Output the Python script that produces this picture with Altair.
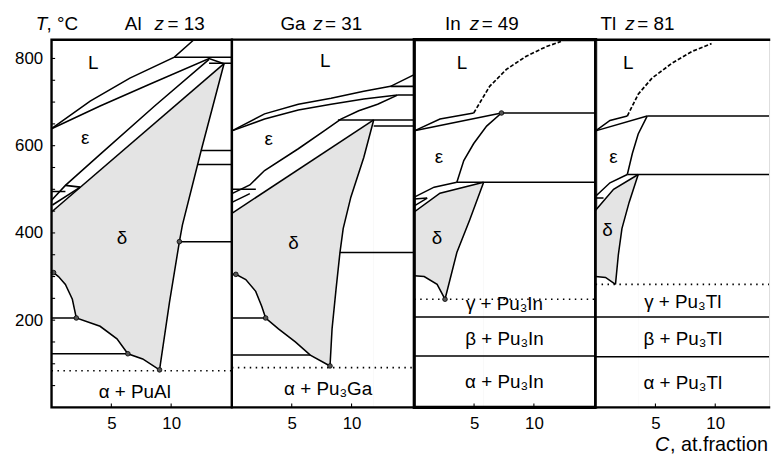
import altair as alt
import pandas as pd

FONT = "Liberation Sans"
Y_MAX = 843
Y_TICKS = [200, 400, 600, 800]
Y_MINOR = [50, 100, 150, 200, 250, 300, 350, 400, 450, 500, 550, 600, 650, 700, 750, 800]
X_TICKS = [5, 10]
X_TICK_LEN = 9      # in degrees C
Y_TICK_LEN = 0.3    # in at.%

PANEL_NAMES = ["Al", "Ga", "In", "Tl"]
PANEL_Z = ["= 13", "= 31", "= 49", "= 81"]
PANEL_EDGE = [15.08, 15.24, 15.16, 14.5]
PANEL_WIDTH = [182, 184, 183, 175]

# ---------------- Al ----------------
AL_SOLID = [
    [(0, 639), (3.23, 702), (6.55, 755), (10.27, 803), (11.9, 843)],
    [(0, 639), (4.06, 691), (8.2, 741), (13.17, 800), (14.42, 788)],
    [(10.27, 803), (15.08, 803)],
    [(13.17, 789), (15.08, 789)],
    [(0, 475), (1.16, 509), (4.06, 580), (8.62, 691), (13.17, 798)],
    [(0, 448), (14.42, 788)],
    [(14.42, 788), (12.51, 589), (10.94, 418), (10.69, 380), (9.86, 241), (9.03, 86)],
    [(9.03, 86), (7.62, 111), (6.38, 123), (5.47, 157), (4.06, 186), (2.07, 205),
     (1.74, 248), (1.16, 282), (0.58, 300), (0.17, 309), (0, 309)],
    [(12.51, 589), (15.08, 589)],
    [(12.22, 557), (15.08, 557)],
    [(10.69, 380), (15.08, 380)],
    [(0, 205), (2.07, 205)],
    [(0, 123), (6.38, 123)],
    [(0, 495), (1.16, 495)],
    [(1.16, 509), (2.40, 505)],
    [(0.08, 464), (2.40, 505)],
]
AL_DASHED = []
AL_DOTTED = [[(0, 84), (15.08, 84)]]
AL_DELTA_TOP = [(0, 448), (14.42, 788)]
AL_DELTA_BOTTOM = [(0, 309), (0.17, 309), (0.58, 300), (1.16, 282), (1.74, 248), (2.07, 205),
                   (4.06, 186), (5.47, 157), (6.38, 123), (7.62, 111), (9.03, 86), (9.86, 241),
                   (10.69, 380), (10.94, 418), (12.51, 589), (14.42, 788)]
AL_NODES = [(2.07, 205), (6.38, 123), (9.03, 86), (10.69, 380), (0.17, 309)]
AL_LABELS = [("L", 3.48, 789), ("ε", 2.82, 618), ("δ", 5.88, 389), ("α + PuAl", 6.96, 36)]

# ---------------- Ga ----------------
GA_SOLID = [
    [(0, 634), (2.73, 673), (5.55, 695), (8.29, 709), (11.02, 725), (13.26, 736), (15.24, 763)],
    [(0, 634), (2.73, 661), (5.55, 682), (8.29, 695), (11.02, 707), (13.84, 716)],
    [(13.26, 736), (15.24, 736)],
    [(13.84, 716), (15.24, 716)],
    [(0, 490), (1.5, 510), (2.73, 543), (5.55, 593), (7.71, 634), (9.11, 661),
     (10.6, 680), (12.18, 695), (13.84, 716)],
    [(0, 445), (11.85, 659)],
    [(11.85, 659), (11.02, 573), (9.94, 482), (9.3, 410), (9.03, 355), (8.70, 270),
     (8.37, 180), (8.20, 95)],
    [(8.20, 95), (6.55, 120), (5.30, 150), (3.89, 180), (2.82, 205), (2.49, 232),
     (1.99, 266), (1.16, 293), (0.33, 305), (0, 305)],
    [(8.86, 659), (15.24, 659)],
    [(11.85, 645), (15.24, 645)],
    [(9.03, 355), (15.24, 355)],
    [(0, 205), (2.82, 205)],
    [(0, 120), (6.55, 120)],
    [(0, 500), (2.0, 500)],
    [(0, 470), (1.5, 490)],
]
GA_DASHED = []
GA_DOTTED = [[(0, 91), (15.24, 91)]]
GA_DELTA_TOP = [(0, 445), (11.85, 659)]
GA_DELTA_BOTTOM = [(0, 305), (0.33, 305), (1.16, 293), (1.99, 266), (2.49, 232), (2.82, 205),
                   (3.89, 180), (5.30, 150), (6.55, 120), (8.20, 95), (8.37, 180), (8.70, 270),
                   (9.03, 355), (9.3, 410), (9.94, 482), (11.02, 573), (11.85, 659)]
GA_NODES = [(2.82, 205), (0.33, 305), (8.2, 95)]
GA_LABELS = [("L", 7.79, 793), ("ε", 3.07, 616), ("δ", 5.14, 377), ("α + Pu₃Ga", 8.04, 43)]

# ---------------- In ----------------
IN_SOLID = [
    [(0, 634), (2.15, 661), (4.97, 675)],
    [(0, 634), (7.29, 675)],
    [(7.29, 675), (15.16, 675)],
    [(7.29, 675), (6.05, 645), (4.97, 605), (4.14, 566), (3.56, 516)],
    [(3.56, 516), (15.16, 516)],
    [(0, 482), (1.66, 505), (3.56, 516)],
    [(0, 448), (2.15, 491), (5.80, 516)],
    [(5.80, 516), (4.64, 430), (3.56, 355), (2.57, 248)],
    [(2.57, 248), (1.91, 282), (0.83, 300), (0, 302)],
    [(0, 207), (15.16, 207)],
    [(0, 118), (15.16, 118)],
    [(0, 478), (1.08, 480)],
    [(0, 462), (1.08, 480)],
]
IN_DASHED = [[(4.97, 675), (6.30, 736), (7.70, 775), (9.36, 805), (11.02, 827), (12.26, 839)]]
IN_DOTTED = [[(0, 248), (15.16, 248)]]
IN_DELTA_TOP = [(0, 448), (2.15, 491), (5.80, 516)]
IN_DELTA_BOTTOM = [(0, 302), (0.83, 300), (1.91, 282), (2.57, 248), (3.56, 355), (4.64, 430),
                   (5.80, 516)]
IN_NODES = [(7.29, 675), (2.57, 248)]
IN_LABELS = [("L", 3.98, 789), ("ε", 2.07, 573), ("δ", 1.91, 389),
             ("γ + Pu₃In", 7.54, 236), ("β + Pu₃In", 7.54, 157), ("α + Pu₃In", 7.54, 59)]

# ---------------- Tl ----------------
TL_SOLID = [
    [(0, 634), (1.2, 658), (2.65, 668)],
    [(0, 634), (4.31, 668)],
    [(4.31, 668), (14.5, 668)],
    [(4.31, 668), (3.56, 627), (3.07, 582), (2.65, 534)],
    [(2.65, 534), (14.5, 534)],
    [(0, 484), (1.2, 515), (2.65, 534)],
    [(0, 452), (1.5, 500), (3.56, 534)],
    [(3.56, 534), (2.8, 470), (2.2, 410), (1.9, 350), (1.66, 282)],
    [(1.66, 282), (0.83, 298), (0, 300)],
    [(0, 207), (14.5, 207)],
    [(0, 116), (14.5, 116)],
    [(0, 480), (0.66, 480)],
]
TL_DASHED = [[(2.65, 668), (3.56, 718), (4.72, 755), (6.38, 789), (8.04, 816), (9.69, 834)]]
TL_DOTTED = [[(0, 282), (14.5, 282)]]
TL_DELTA_TOP = [(0, 452), (1.5, 500), (3.56, 534)]
TL_DELTA_BOTTOM = [(0, 300), (0.83, 298), (1.66, 282), (1.9, 350), (2.2, 410), (2.8, 470),
                   (3.56, 534)]
TL_NODES = []
TL_LABELS = [("L", 2.73, 789), ("ε", 1.49, 573), ("δ", 0.99, 407),
             ("γ + Pu₃Tl", 7.29, 241), ("β + Pu₃Tl", 7.29, 157), ("α + Pu₃Tl", 7.29, 55)]

# title pieces: (element x, z x, value x) in px from panel left
TITLE_POS = [(74, 104, 117), (49, 82, 94), (31, 56, 68), (5, 30, 42)]
BORDER_WIDTH = [2.4, 2.2, 3.2, 2.4]

PANELS = [
    (AL_SOLID, AL_DASHED, AL_DOTTED, AL_DELTA_TOP, AL_DELTA_BOTTOM, AL_NODES, AL_LABELS),
    (GA_SOLID, GA_DASHED, GA_DOTTED, GA_DELTA_TOP, GA_DELTA_BOTTOM, GA_NODES, GA_LABELS),
    (IN_SOLID, IN_DASHED, IN_DOTTED, IN_DELTA_TOP, IN_DELTA_BOTTOM, IN_NODES, IN_LABELS),
    (TL_SOLID, TL_DASHED, TL_DOTTED, TL_DELTA_TOP, TL_DELTA_BOTTOM, TL_NODES, TL_LABELS),
]


def lines_df(lines):
    rows = []
    for j, ln in enumerate(lines):
        for k, (x, t) in enumerate(ln):
            rows.append({"line": j, "k": k, "x": x, "T": t})
    return pd.DataFrame(rows)


def pts_df(pts):
    return pd.DataFrame([{"x": x, "T": t} for x, t in pts])


def txt(s, x, y, italic=False, size=19):
    kw = dict(fontSize=size, font=FONT, align="left", baseline="alphabetic", color="black")
    if italic:
        kw["fontStyle"] = "italic"
    return alt.Chart(pd.DataFrame({"t": [s]})).mark_text(**kw).encode(
        x=alt.value(x), y=alt.value(y), text="t:N")


def make_panel(i):
    solid, dashed, dotted, dtop, dbot, nodes, labels = PANELS[i]
    edge = PANEL_EDGE[i]
    xaxis = alt.Axis(values=X_TICKS, title=None, grid=False, domain=False, ticks=False,
                     labelFontSize=17, labelPadding=8, labelColor="black", labelFont=FONT,
                     format="d")
    if i == 0:
        yaxis = alt.Axis(values=Y_TICKS, title=None, grid=False, domain=False, ticks=False,
                         labelFontSize=17, labelPadding=9, labelColor="black", labelFont=FONT)
    else:
        yaxis = None
    X = alt.X("x:Q", scale=alt.Scale(domain=[0, edge], nice=False, zero=False), axis=xaxis)
    Y = alt.Y("T:Q", scale=alt.Scale(domain=[0, Y_MAX], nice=False, zero=False), axis=yaxis)

    gray = alt.Chart(pts_df(dtop)).mark_area(color="#e4e4e4", opacity=1).encode(
        x=X, y=Y, y2=alt.datum(0))
    white = alt.Chart(pts_df(dbot)).mark_area(color="white", opacity=1).encode(
        x=X, y=Y, y2=alt.datum(0))
    sol = alt.Chart(lines_df(solid)).mark_line(color="black", strokeWidth=1.55, clip=True).encode(
        x=X, y=Y, detail="line:N", order="k:Q")
    dot = alt.Chart(lines_df(dotted)).mark_line(color="black", strokeWidth=1.7,
                                                 strokeDash=[1.5, 4.5], clip=True).encode(
        x=X, y=Y, detail="line:N", order="k:Q")
    tick_lines = [[(v, 0), (v, X_TICK_LEN)] for v in X_TICKS]
    if i == 0:
        tick_lines += [[(0, v), (Y_TICK_LEN, v)] for v in Y_MINOR]
    tk = alt.Chart(lines_df(tick_lines)).mark_line(color="black", strokeWidth=1.1).encode(
        x=X, y=Y, detail="line:N", order="k:Q")
    layers = [gray, white, sol, dot, tk]
    if dashed:
        das = alt.Chart(lines_df(dashed)).mark_line(color="black", strokeWidth=1.7,
                                                     strokeDash=[4, 2], clip=True).encode(
            x=X, y=Y, detail="line:N", order="k:Q")
        layers.append(das)
    if nodes:
        nd = alt.Chart(pts_df(nodes)).mark_circle(size=22, color="#555", stroke="black",
                                                  strokeWidth=0.8, opacity=1).encode(x=X, y=Y)
        layers.append(nd)
    lab = alt.Chart(pd.DataFrame(labels, columns=["label", "x", "T"])).mark_text(
        fontSize=19, font=FONT, color="black", baseline="middle", align="center").encode(
        x=X, y=Y, text="label:N")
    layers.append(lab)

    if i < 3:
        border = [(0, 0), (0, Y_MAX), (edge, Y_MAX), (edge, 0), (0, 0)]
    else:
        border = [(edge, Y_MAX), (0, Y_MAX), (0, 0), (edge, 0)]
    bd = alt.Chart(lines_df([border])).mark_line(
        color="black", strokeWidth=BORDER_WIDTH[i], strokeCap="square", strokeJoin="miter").encode(
        x=X, y=Y, detail="line:N", order="k:Q")
    layers.append(bd)

    ex, zx, vx = TITLE_POS[i]
    layers += [txt(PANEL_NAMES[i], ex, -10), txt("z", zx, -10, italic=True),
               txt(PANEL_Z[i], vx, -10)]
    if i == 0:
        layers += [txt("T", -16, -10, italic=True), txt(", °C", -5, -10)]
    if i == 3:
        layers += [txt("C", 60, 415, italic=True, size=20), txt(", at.fraction", 75, 415, size=20)]

    return alt.layer(*layers).properties(width=PANEL_WIDTH[i], height=371)


chart = alt.hconcat(*[make_panel(i) for i in range(4)], spacing=0, bounds="flush").properties(
    padding={"left": 14, "top": 12, "right": 0, "bottom": 0}
).configure_view(stroke=None).configure(font=FONT, background="white")

chart.save("out.html", embed_options={"renderer": "svg", "actions": False})
